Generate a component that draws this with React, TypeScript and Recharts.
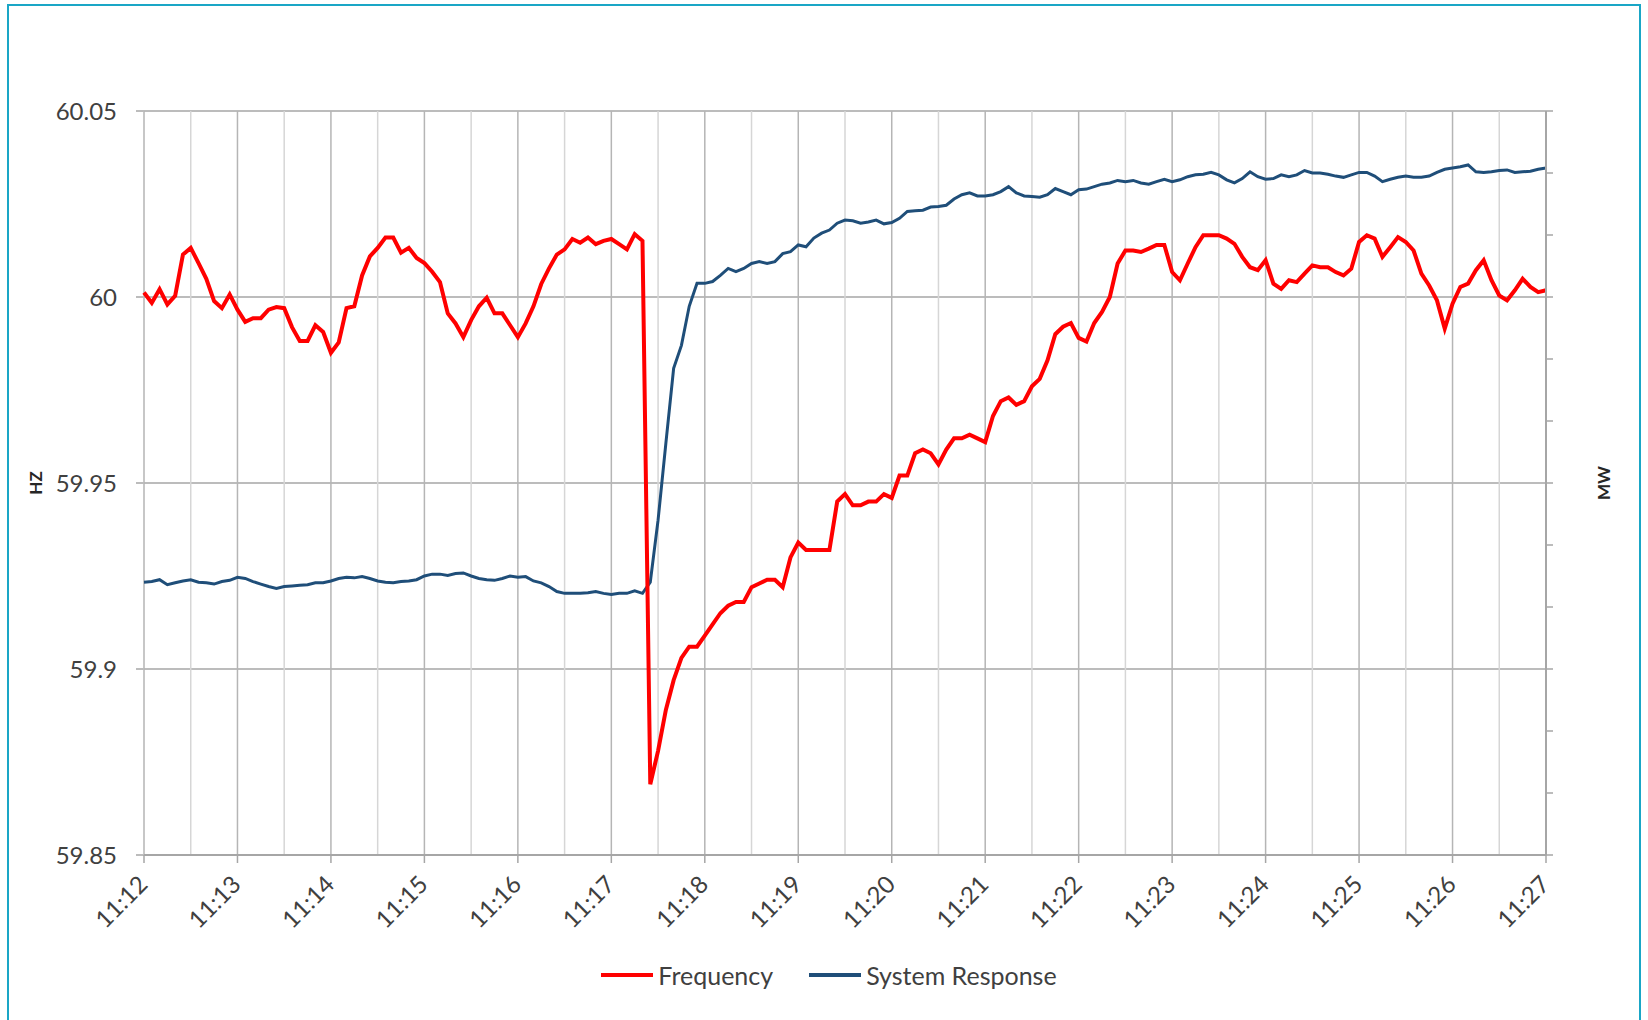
import { CartesianGrid, Legend, Line, LineChart, XAxis, YAxis } from "recharts"

// readings every 5 seconds from 11:12:00 to 11:27:00
const SAMPLE_STEP = 5

const minuteLabels = [
  "11:12", "11:13", "11:14", "11:15", "11:16", "11:17", "11:18", "11:19",
  "11:20", "11:21", "11:22", "11:23", "11:24", "11:25", "11:26", "11:27",
]

// seconds after 11:12:00, one gridline each half minute
const gridTicks = [
  0, 30, 60, 90, 120, 150, 180, 210, 240, 270, 300, 330, 360, 390, 420, 450,
  480, 510, 540, 570, 600, 630, 660, 690, 720, 750, 780, 810, 840, 870, 900,
]

const hzTicks = [59.85, 59.9, 59.95, 60, 60.05]
const mwTicks = [0, 100, 200, 300, 400, 500, 600, 700, 800, 900, 1000, 1100, 1200]

// Hz, one row per minute
const frequency = [
  60.0012, 59.9984, 60.0021, 59.998, 60.0003, 60.0114, 60.0132, 60.0091, 60.0049, 59.9989, 59.997, 60.0007,
  59.9966, 59.9933, 59.9943, 59.9943, 59.9966, 59.9973, 59.997, 59.9919, 59.9882, 59.9882, 59.9924, 59.9906,
  59.985, 59.9878, 59.997, 59.9975, 60.0058, 60.0109, 60.0132, 60.016, 60.016, 60.0119, 60.0132, 60.0105,
  60.0091, 60.0068, 60.004, 59.9956, 59.9929, 59.9892, 59.9938, 59.9975, 59.9998, 59.9956, 59.9956, 59.9924,
  59.9892, 59.9929, 59.9975, 60.0035, 60.0077, 60.0114, 60.0128, 60.0156, 60.0146, 60.016, 60.0142, 60.0151,
  60.0156, 60.0142, 60.0128, 60.0169, 60.0151, 59.869, 59.878, 59.889, 59.897, 59.903, 59.906, 59.906,
  59.909, 59.912, 59.915, 59.917, 59.918, 59.918, 59.922, 59.923, 59.924, 59.924, 59.922, 59.93,
  59.934, 59.932, 59.932, 59.932, 59.932, 59.945, 59.947, 59.944, 59.944, 59.945, 59.945, 59.947,
  59.946, 59.952, 59.952, 59.958, 59.959, 59.958, 59.955, 59.959, 59.962, 59.962, 59.963, 59.962,
  59.961, 59.968, 59.972, 59.973, 59.971, 59.972, 59.976, 59.978, 59.983, 59.99, 59.992, 59.993,
  59.989, 59.988, 59.993, 59.996, 60.0, 60.009, 60.0125, 60.0125, 60.0121, 60.013, 60.014, 60.014,
  60.0067, 60.0045, 60.009, 60.0134, 60.0166, 60.0166, 60.0166, 60.0157, 60.0143, 60.0108, 60.008, 60.0072,
  60.0099, 60.0036, 60.0022, 60.0045, 60.004, 60.0063, 60.0085, 60.008, 60.008, 60.0067, 60.0058, 60.0076,
  60.0148, 60.0166, 60.0157, 60.0108, 60.0134, 60.0161, 60.0148, 60.0125, 60.0063, 60.0031, 59.9991, 59.9915,
  59.9982, 60.0027, 60.0036, 60.0072, 60.0099, 60.0045, 60.0004, 59.9991, 60.0018, 60.0049, 60.0027, 60.0013,
  60.0018,
]

// MW, one row per minute
const systemResponse = [
  440, 441, 444, 436, 439, 442, 444, 440, 439, 437, 441, 443,
  448, 446, 441, 437, 433, 430, 433, 434, 435, 436, 439, 439,
  442, 446, 448, 447, 449, 446, 442, 440, 439, 441, 442, 444,
  450, 453, 453, 451, 454, 455, 450, 446, 444, 443, 446, 450,
  448, 449, 442, 439, 433, 425, 422, 422, 422, 423, 425, 422,
  420, 422, 422, 426, 422, 440, 540, 664, 785, 822, 885, 922,
  922, 925, 935, 946, 941, 946, 954, 957, 954, 957, 970, 973,
  984, 981, 995, 1003, 1008, 1019, 1024, 1023, 1019, 1021, 1024, 1018,
  1020, 1027, 1038, 1039, 1040, 1045, 1046, 1048, 1058, 1065, 1068, 1063,
  1063, 1065, 1070, 1078, 1068, 1063, 1062, 1061, 1065, 1075, 1070, 1065,
  1073, 1074, 1078, 1082, 1084, 1088, 1086, 1088, 1084, 1082, 1086, 1090,
  1086, 1089, 1094, 1097, 1098, 1101, 1097, 1089, 1084, 1091, 1102, 1094,
  1090, 1091, 1097, 1094, 1097, 1104, 1100, 1100, 1098, 1095, 1093, 1097,
  1101, 1101, 1095, 1086, 1090, 1093, 1095, 1093, 1093, 1095, 1101, 1106,
  1108, 1110, 1113, 1102, 1101, 1102, 1104, 1105, 1101, 1102, 1103, 1106,
  1108,
]

const seriesOrder = ["Frequency", "System Response"]

const data = frequency.map((hz, i) => ({
  t: i * SAMPLE_STEP,
  frequency: hz,
  response: systemResponse[i],
}))

const TEXT = "#404040"
const FONT = "Lato, 'Open Sans', sans-serif"

function TimeTick(props: any) {
  const { x, y, payload } = props
  if (payload.value % 60 !== 0) return null
  const label = minuteLabels[payload.value / 60]
  const ax = x + 5
  const ay = y + 21
  return (
    <g>
      <line x1={x} x2={x} y1={y - 10} y2={y - 2} stroke="#a6a6a6" strokeWidth={1.5} />
      <text
        x={ax}
        y={ay}
        textAnchor="end"
        transform={`rotate(-45, ${ax}, ${ay})`}
        fontSize={24}
        fill={TEXT}
        fontFamily={FONT}
      >
        {label}
      </text>
    </g>
  )
}

function VerticalGridLine(props: any) {
  const { x1, y1, x2, y2, index } = props
  const major = index % 2 === 0
  return (
    <line
      key={props.key}
      x1={x1}
      y1={y1}
      x2={x2}
      y2={y2}
      stroke={major ? "#b5b5b5" : "#d6d6d6"}
      strokeWidth={1.5}
    />
  )
}

function AxisTitle(props: any) {
  const { viewBox, text, shift } = props
  const cx = viewBox.x + shift
  const cy = viewBox.y + viewBox.height / 2
  return (
    <text
      x={cx}
      y={cy}
      textAnchor="middle"
      dominantBaseline="central"
      transform={`rotate(-90, ${cx}, ${cy})`}
      fontSize={17}
      fontWeight="bold"
      fill="#262626"
      fontFamily={FONT}
    >
      {text}
    </text>
  )
}

function LegendContent(props: any) {
  const items = [...(props.payload ?? [])].sort(
    (a: any, b: any) => seriesOrder.indexOf(a.value) - seriesOrder.indexOf(b.value)
  )
  return (
    <div
      style={{
        display: "flex",
        justifyContent: "center",
        alignItems: "center",
        gap: 36,
        paddingLeft: 10,
        fontFamily: FONT,
      }}
    >
      {items.map((item: any) => (
        <div key={item.value} style={{ display: "flex", alignItems: "center" }}>
          <span style={{ width: 52, height: 4, background: item.color, marginRight: 5 }} />
          <span style={{ fontSize: 25, color: TEXT, lineHeight: "30px" }}>{item.value}</span>
        </div>
      ))}
    </div>
  )
}

export default function App() {
  return (
    <div
      style={{
        position: "absolute",
        left: 0,
        top: 0,
        width: 1648,
        height: 1020,
        overflow: "hidden",
        background: "#fff",
        fontFamily: FONT,
      }}
    >
      <div
        style={{
          position: "absolute",
          left: 7,
          top: 4,
          width: 1634,
          height: 1100,
          border: "2px solid #1aa6c6",
          boxSizing: "border-box",
        }}
      />
      <div style={{ position: "absolute", left: 0, top: 0 }}>
        <LineChart
          width={1648}
          height={1020}
          data={data}
          margin={{ top: 111, right: 42, bottom: 75, left: 54 }}
        >
          <CartesianGrid
            xAxisId="t"
            yAxisId="hz"
            stroke="#bcbcbc"
            strokeWidth={2}
            vertical={VerticalGridLine}
          />
          <XAxis
            xAxisId="t"
            dataKey="t"
            type="number"
            domain={[0, 900]}
            ticks={gridTicks}
            interval={0}
            tick={<TimeTick />}
            tickLine={false}
            tickSize={8}
            tickMargin={2}
            height={90}
            axisLine={{ stroke: "#a6a6a6", strokeWidth: 2 }}
          />
          <YAxis
            yAxisId="hz"
            domain={[59.85, 60.05]}
            ticks={hzTicks}
            interval={0}
            tickFormatter={(v: number) => String(Number(v.toFixed(2)))}
            width={90}
            tickSize={8}
            tickMargin={19}
            tickLine={{ stroke: "#bcbcbc", strokeWidth: 2 }}
            axisLine={false}
            tick={{ fontSize: 24, fill: TEXT, fontFamily: FONT }}
            label={<AxisTitle text="HZ" shift={-19} />}
          />
          <YAxis
            yAxisId="mw"
            orientation="right"
            domain={[0, 1200]}
            ticks={mwTicks}
            interval={0}
            width={60}
            tickFormatter={() => ""}
            tickSize={7}
            tickLine={{ stroke: "#a6a6a6", strokeWidth: 1.5 }}
            axisLine={{ stroke: "#a6a6a6", strokeWidth: 2 }}
            label={<AxisTitle text="MW" shift={57} />}
          />
          <Legend
            layout="horizontal"
            verticalAlign="middle"
            align="center"
            content={<LegendContent />}
            wrapperStyle={{ top: 960, left: 0, width: 1648 }}
          />
          <Line
            xAxisId="t"
            yAxisId="mw"
            dataKey="response"
            name="System Response"
            type="linear"
            stroke="#1f4e79"
            strokeWidth={3}
            dot={false}
            isAnimationActive={false}
          />
          <Line
            xAxisId="t"
            yAxisId="hz"
            dataKey="frequency"
            name="Frequency"
            type="linear"
            stroke="#ff0000"
            strokeWidth={4}
            dot={false}
            isAnimationActive={false}
          />
        </LineChart>
      </div>
    </div>
  )
}
